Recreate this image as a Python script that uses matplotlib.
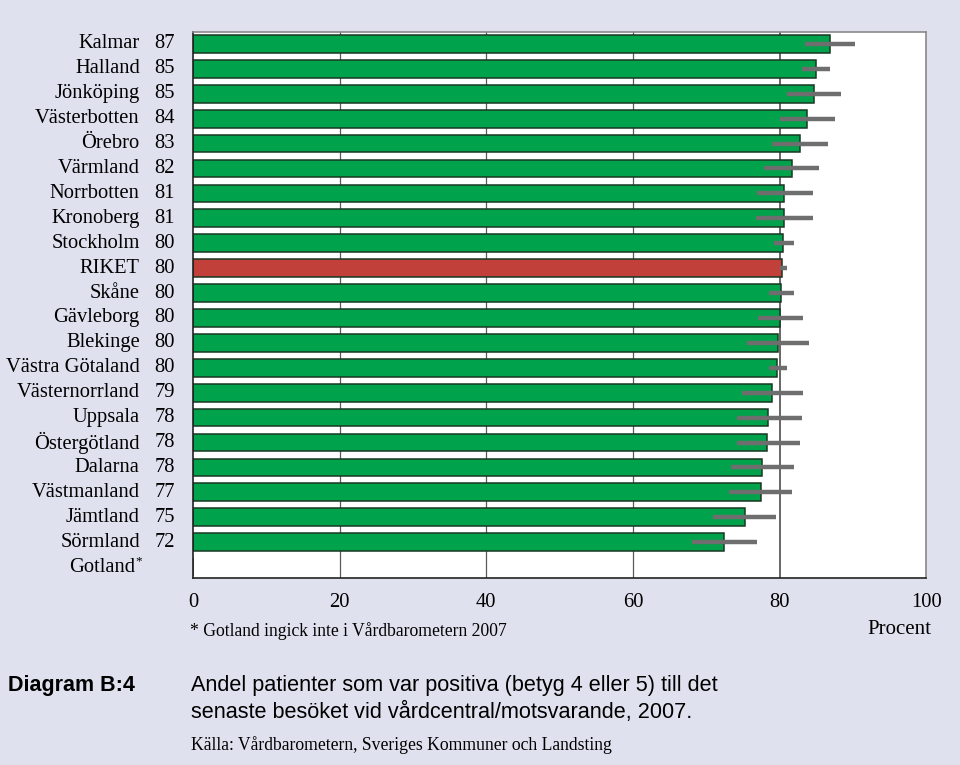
import numpy as np
import matplotlib
matplotlib.use("Agg")
import matplotlib.pyplot as plt

BG = "#dfe2ee"
GREEN = "#00a24b"
RED = "#c1403a"
ERR = "#6e6e6e"

regions = ["Kalmar", "Halland", "Jönköping", "Västerbotten", "Örebro", "Värmland",
           "Norrbotten", "Kronoberg", "Stockholm", "RIKET", "Skåne", "Gävleborg",
           "Blekinge", "Västra Götaland", "Västernorrland", "Uppsala", "Östergötland",
           "Dalarna", "Västmanland", "Jämtland", "Sörmland", "Gotland"]
values = [86.8, 85.0, 84.7, 83.7, 82.7, 81.6, 80.6, 80.6, 80.4, 80.3, 80.1, 80.0,
          79.7, 79.6, 78.9, 78.4, 78.3, 77.6, 77.4, 75.2, 72.4, np.nan]
shown = ["87", "85", "85", "84", "83", "82", "81", "81", "80", "80", "80", "80",
         "80", "80", "79", "78", "78", "78", "77", "75", "72", ""]
err_low = [83.4, 83.0, 81.0, 80.0, 78.9, 77.9, 76.9, 76.8, 79.2, 80.0, 78.5, 77.0,
           75.5, 78.5, 74.8, 74.2, 74.2, 73.3, 73.1, 70.9, 68.1, np.nan]
err_high = [90.2, 86.9, 88.3, 87.5, 86.6, 85.3, 84.5, 84.5, 82.0, 81.0, 82.0, 83.1,
            84.0, 81.0, 83.1, 83.0, 82.7, 81.9, 81.7, 79.5, 76.9, np.nan]
xticks = [0, 20, 40, 60, 80, 100]

serif = "Liberation Serif"
sans = "Liberation Sans"
LBL = 14.8

fig = plt.figure(figsize=(9.6, 7.65), dpi=100, facecolor=BG)
ax = fig.add_axes([0.2010, 0.2444, 0.7641, 0.7138])
ax.set_facecolor("white")

y = np.arange(len(regions))
colors = [RED if r == "RIKET" else GREEN for r in regions]
vals = np.nan_to_num(values)
ax.barh(y, vals, height=0.71, color=colors, edgecolor="#173822", linewidth=1.1, zorder=2)
ax.hlines(y, err_low, err_high, color=ERR, linewidth=3.2, zorder=3)

for gx in [20, 40, 60, 80]:
    ax.axvline(gx, color="#5a5a5a", linewidth=0.9 if gx != 80 else 1.3, zorder=1)

ax.set_xlim(0, 100)
ax.set_ylim(21.44, -0.48)
ax.set_xticks(xticks)
ax.set_xticklabels([str(t) for t in xticks], fontfamily=serif, fontsize=LBL)
ax.tick_params(axis="x", length=0, pad=11)
ax.set_yticks([])

for side in ["left", "bottom"]:
    ax.spines[side].set_color("#222222")
    ax.spines[side].set_linewidth(1.2)
for side in ["top", "right"]:
    ax.spines[side].set_color("#8a8a8a")
    ax.spines[side].set_linewidth(1.2)

tr = ax.get_yaxis_transform()
for yi, name, num in zip(y, regions, shown):
    ax.text(-0.0725 if name != "Gotland" else -0.0790, yi, name, transform=tr,
            ha="right", va="center", fontfamily=serif, fontsize=LBL)
    ax.text(-0.0245, yi, num, transform=tr, ha="right", va="center",
            fontfamily=serif, fontsize=LBL)
ax.text(-0.0745, y[-1] - 0.25, "*", transform=tr, ha="center", va="center",
        fontfamily=serif, fontsize=9.5)

fig.text(190 / 960, 1 - 631 / 765, "* Gotland ingick inte i Vårdbarometern 2007",
         ha="left", va="center", fontfamily=serif, fontsize=12.7)
fig.text(931 / 960, 1 - 630 / 765, "Procent", ha="right", va="center",
         fontfamily=serif, fontsize=15)

fig.text(8 / 960, 1 - 686 / 765, "Diagram B:4", ha="left", va="center",
         fontfamily=sans, fontsize=15.5, fontweight="bold")
fig.text(191 / 960, 1 - 686 / 765,
         "Andel patienter som var positiva (betyg 4 eller 5) till det",
         ha="left", va="center", fontfamily=sans, fontsize=15.6)
fig.text(191 / 960, 1 - 712 / 765,
         "senaste besöket vid vårdcentral/motsvarande, 2007.",
         ha="left", va="center", fontfamily=sans, fontsize=15.6)
fig.text(191 / 960, 1 - 745 / 765,
         "Källa: Vårdbarometern, Sveriges Kommuner och Landsting",
         ha="left", va="center", fontfamily=serif, fontsize=12.7)

fig.savefig("out.png", dpi=100, facecolor=BG)
